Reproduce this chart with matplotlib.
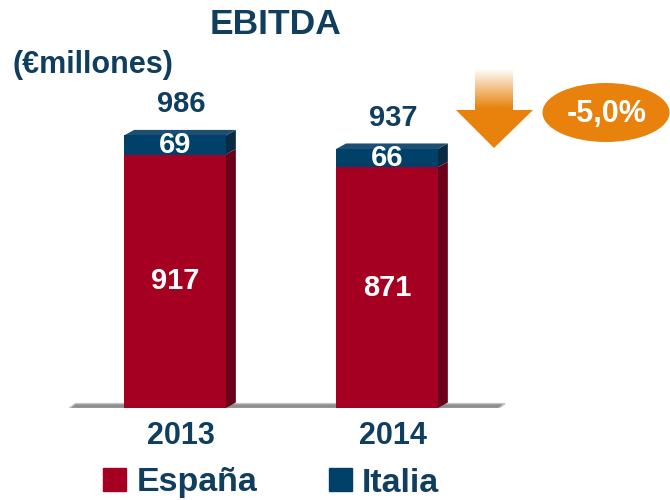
import numpy as np
import matplotlib.pyplot as plt
from matplotlib.patches import Polygon, Ellipse, Patch
from matplotlib.colors import to_rgb

# datos
years = ['2013', '2014']
espana = [917, 871]
italia = [69, 66]
totales = [986, 937]
cambio = '-5,0%'

rojo = '#A50021'
rojo_osc = '#6A0019'
azul = '#00416A'
azul_osc = '#0A2B42'
texto = '#0F3E5F'
naranja = '#E8820C'

plt.rcParams['font.family'] = ['Liberation Sans', 'DejaVu Sans']
plt.rcParams['font.weight'] = 'bold'

fig = plt.figure(figsize=(6.7, 5), dpi=100)

# ejes de las barras
ax = fig.add_axes([0, 0.184, 1, 0.774])
ax.set_xlim(-0.8255, 2.335)
ax.set_ylim(0, 1400)
ax.axis('off')

x = np.arange(len(years))
w = 0.48
dx, dy = 0.047, 20

# suelo gris
ax.add_patch(Polygon([(-0.50, -2), (-0.47, 16), (1.557, 16), (1.525, -2)],
                     closed=True, facecolor='#8E8E8E', edgecolor='#C4C4C4', lw=1, zorder=1))

ax.bar(x, espana, w, color=rojo, zorder=3)
ax.bar(x, italia, w, bottom=espana, color=azul, zorder=3)

# caras laterales y superior (efecto 3D)
for i in range(len(years)):
    xr = x[i] + w / 2
    xl = x[i] - w / 2
    tramos = [(0, espana[i], rojo_osc), (espana[i], totales[i], azul_osc)]
    for y0, y1, c in tramos:
        ax.add_patch(Polygon([(xr, y0), (xr + dx, y0 + dy), (xr + dx, y1 + dy), (xr, y1)],
                             closed=True, facecolor=c, edgecolor='none', zorder=2))
    ax.add_patch(Polygon([(xl, totales[i]), (xl + dx, totales[i] + dy),
                          (xr + dx, totales[i] + dy), (xr, totales[i])],
                         closed=True, facecolor='#1B4F73', edgecolor='none', zorder=2))

    ax.text(x[i], espana[i] / 2, str(espana[i]), ha='center', va='center',
            color='white', fontsize=21, zorder=5)
    ax.text(x[i], espana[i] + italia[i] / 2, str(italia[i]), ha='center', va='center',
            color='white', fontsize=21, zorder=5)
    ax.text(x[i] + 0.03, totales[i] + 112, str(totales[i]), ha='center', va='center',
            color=texto, fontsize=21, zorder=5)
    ax.text(x[i] + 0.03, -102, years[i], ha='center', va='center',
            color=texto, fontsize=22, zorder=5)

# capa superior en pixeles
ov = fig.add_axes([0, 0, 1, 1], facecolor='none')
ov.set_xlim(0, 670)
ov.set_ylim(500, 0)
ov.axis('off')

ov.text(276, 25, 'EBITDA', ha='center', va='center', fontsize=25.5, color=texto)
ov.text(12, 65, '(€millones)', ha='left', va='center', fontsize=22, color=texto)

# flecha con degradado
flecha = Polygon([(475, 68), (513, 68), (513, 110), (533, 110), (494, 148),
                  (456, 110), (475, 110)], closed=True, facecolor='none', edgecolor='none')
ov.add_patch(flecha)
alfa = np.clip((np.linspace(68, 148, 100) - 68) / 40, 0, 1)
grad = np.zeros((100, 1, 4))
grad[:, 0, :3] = to_rgb(naranja)
grad[:, 0, 3] = alfa
im = ov.imshow(grad, extent=(456, 533, 148, 68), aspect='auto', zorder=4)
im.set_clip_path(flecha)

ov.add_patch(Ellipse((606, 112.5), 127, 59, facecolor=naranja, edgecolor='none', zorder=4))
ov.text(606.5, 114, cambio, ha='center', va='center', color='white', fontsize=22, zorder=5)
ov.set_xlim(0, 670)
ov.set_ylim(500, 0)

# leyenda
handles = [Patch(color=rojo, label='España'), Patch(color=azul, label='Italia')]
fig.legend(handles=handles, loc='center left', bbox_to_anchor=(0.154, 0.034), ncol=2,
           frameon=False, fontsize=24.5, labelcolor=texto, handlelength=0.68, handleheight=0.66,
           handletextpad=0.3, columnspacing=2.1, borderaxespad=0, borderpad=0)

fig.savefig('out.png', dpi=100)
